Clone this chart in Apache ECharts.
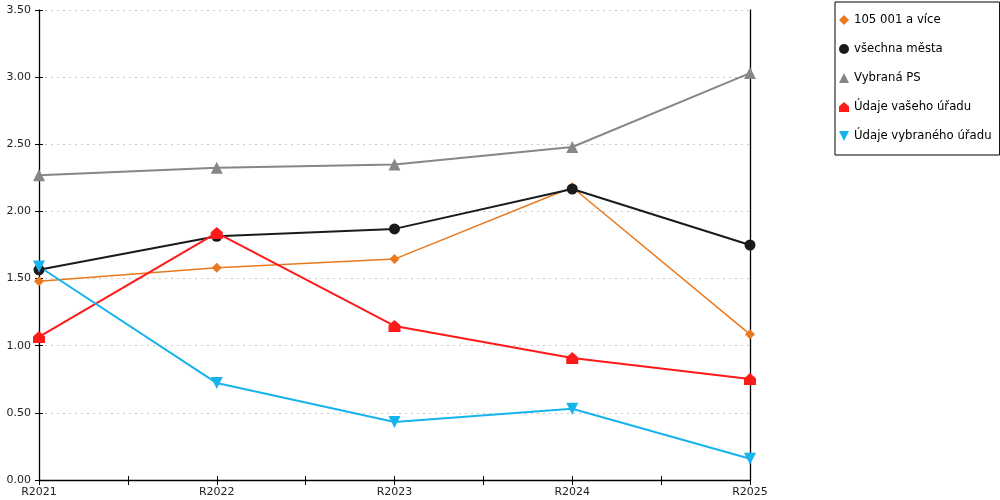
<!DOCTYPE html>
<html>
<head>
<meta charset="utf-8" />
<title></title>
<script src="https://cdn.jsdelivr.net/npm/echarts@6/dist/echarts.min.js"></script>
<style>
	*{ padding: 0; margin: 0; }
	#main{ width: 1000px; height: 500px; }
</style>
</head>
<body>
<div id="main"></div>
<script type="text/javascript">
// kategorie osy x
var years = ['R2021', 'R2022', 'R2023', 'R2024', 'R2025'];

// hodnoty jednotlivych rad
var velka = [1.48, 1.58, 1.645, 2.18, 1.085];      // 105 001 a více
var vsechna = [1.565, 1.815, 1.87, 2.167, 1.75];   // všechna města
var vybranaPS = [2.27, 2.325, 2.35, 2.48, 3.03];   // Vybraná PS
var vasUrad = [1.065, 1.84, 1.147, 0.908, 0.752];  // Údaje vašeho úřadu
var vybranyUrad = [1.59, 0.722, 0.432, 0.53, 0.158]; // Údaje vybraného úřadu

var house = 'path://M5,0 L10,4.5 L10,10 L0,10 L0,4.5 Z';
var downTri = 'path://M0,0 L10,0 L5,10 Z';

var myChart = echarts.init(document.getElementById('main'));

function serie(name, data, color, symbol, size, width) {
	return {
		name: name,
		type: 'line',
		data: data,
		symbol: symbol,
		symbolSize: size,
		showAllSymbol: true,
		xAxisIndex: 0,
		yAxisIndex: 0,
		lineStyle: { color: color, width: width },
		itemStyle: { color: color },
		emphasis: { disabled: true },
		animation: false
	};
}

var option = {
	backgroundColor: '#fff',
	textStyle: { fontFamily: 'DejaVu Sans' },
	grid: { left: 39, right: 250, top: 10, bottom: 20 },
	legend: {
		orient: 'vertical',
		left: 835,
		top: 2,
		padding: [12, 8, 13, 4],
		itemGap: 17,
		itemWidth: 10,
		itemHeight: 10,
		borderColor: '#000',
		borderWidth: 1,
		backgroundColor: '#fff',
		textStyle: { fontSize: 11.7, color: '#000', fontFamily: 'DejaVu Sans' },
		data: [
			{ name: '105 001 a více', icon: 'diamond' },
			{ name: 'všechna města', icon: 'circle' },
			{ name: 'Vybraná PS', icon: 'triangle' },
			{ name: 'Údaje vašeho úřadu', icon: house },
			{ name: 'Údaje vybraného úřadu', icon: downTri }
		]
	},
	xAxis: [{
		type: 'category',
		data: years,
		boundaryGap: false,
		axisLine: { show: true, lineStyle: { color: '#000', width: 1.3 } },
		axisTick: { show: false },
		axisLabel: { color: '#222', fontSize: 11, margin: 7, interval: 0 },
		splitLine: { show: false }
	}, {
		// kratke carky i mezi kategoriemi - ven
		type: 'value', min: 0, max: 4, interval: 0.5,
		position: 'bottom',
		axisLine: { show: false },
		axisTick: { show: true, length: 5, lineStyle: { color: '#000' } },
		axisLabel: { show: false },
		splitLine: { show: false }
	}, {
		// a dovnitr
		type: 'value', min: 0, max: 4, interval: 0.5,
		position: 'bottom',
		axisLine: { show: false },
		axisTick: { show: true, inside: true, length: 4, lineStyle: { color: '#000' } },
		axisLabel: { show: false },
		splitLine: { show: false }
	}],
	yAxis: [{
		type: 'value',
		min: 0, max: 3.5, interval: 0.5,
		axisLine: { show: true, lineStyle: { color: '#000', width: 1.3 } },
		axisTick: { show: true, length: 4, lineStyle: { color: '#000' } },
		axisLabel: {
			color: '#222', fontSize: 11, margin: 8,
			formatter: function (v) { return v.toFixed(2); }
		},
		splitLine: { show: true, lineStyle: { color: '#c8c8c8', type: [2, 4] } }
	}, {
		type: 'value',
		min: 0, max: 3.5, interval: 0.5,
		position: 'left',
		axisLine: { show: false },
		axisTick: { show: true, inside: true, length: 4, lineStyle: { color: '#000' } },
		axisLabel: { show: false },
		splitLine: { show: false }
	}, {
		// svisla cara vpravo
		type: 'value',
		min: 0, max: 3.5, interval: 0.5,
		position: 'right',
		axisLine: { show: true, onZero: false, lineStyle: { color: '#000', width: 1.3 } },
		axisTick: { show: false },
		axisLabel: { show: false },
		splitLine: { show: false }
	}],
	series: [
		serie('105 001 a více', velka, '#E8791E', 'diamond', 10, 1.5),
		serie('všechna města', vsechna, '#1a1a1a', 'circle', 11, 2),
		serie('Vybraná PS', vybranaPS, '#878787', 'triangle', 12, 2),
		serie('Údaje vašeho úřadu', vasUrad, '#FF1A1A', house, 12, 2),
		serie('Údaje vybraného úřadu', vybranyUrad, '#17B3EC', downTri, 12, 2)
	]
};

myChart.setOption(option);
</script>
</body>
</html>
